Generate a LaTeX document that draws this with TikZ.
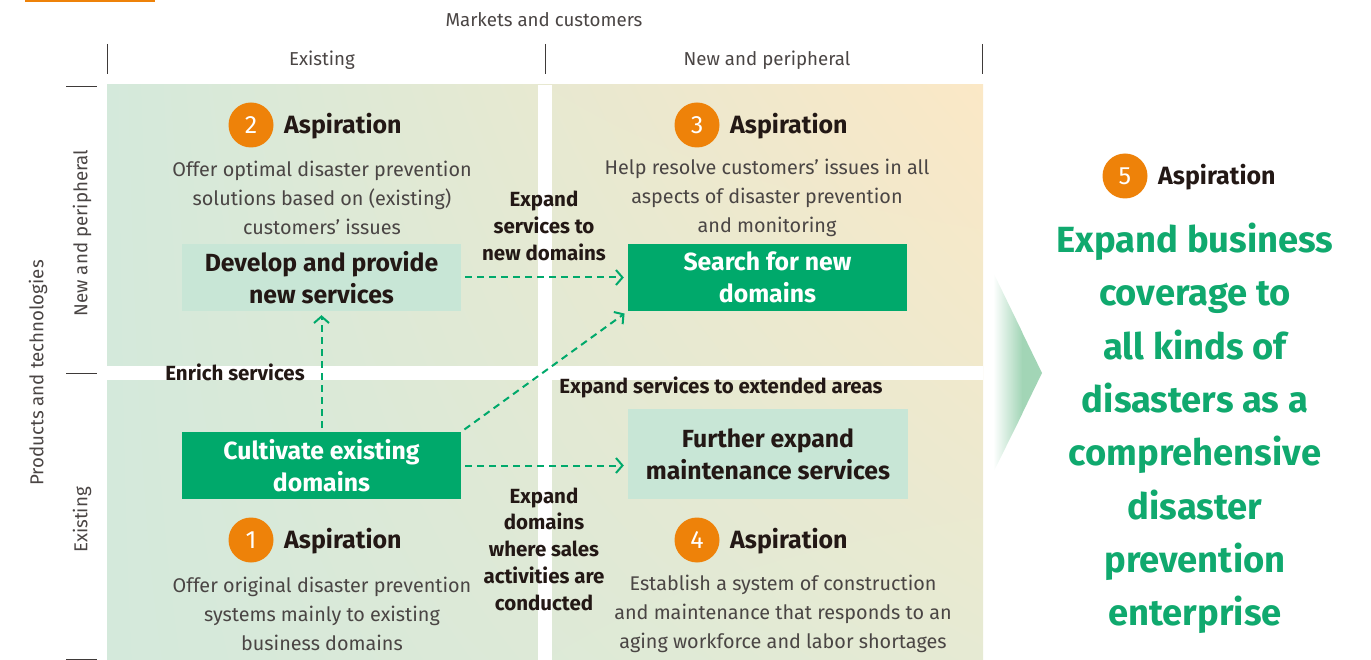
\documentclass[tikz,border=0pt]{standalone}
\usepackage{fontspec}
\setmainfont{Fira Sans}
\usetikzlibrary{arrows.meta,shadings}
\definecolor{grn}{HTML}{00A96B}
\definecolor{biggrn}{HTML}{10A96E}
\definecolor{mint}{HTML}{C8E6D6}
\definecolor{org}{HTML}{EE8209}
\definecolor{txt}{HTML}{231815}
\definecolor{gtxt}{HTML}{4A4544}
\definecolor{qUL}{HTML}{D4E9DB}
\definecolor{qUR}{HTML}{FBE8C6}
\definecolor{qLL}{HTML}{D4E9DB}
\definecolor{qLR}{HTML}{E6EAD3}
\definecolor{chev}{HTML}{A2D5B6}
\definecolor{tickc}{HTML}{3E3A39}
\tikzset{
  num/.style={circle, fill=org, text=white, minimum size=45pt, inner sep=0pt, font=\fontsize{25}{25}\selectfont},
  asp/.style={anchor=west, text=txt, inner sep=0pt, font=\fontsize{25}{25}\selectfont\bfseries},
  desc/.style={align=center, text=gtxt, inner sep=0pt, font=\fontsize{19.8}{29}\selectfont},
  hdr/.style={text=gtxt, inner sep=0pt, font=\fontsize{18.7}{20}\selectfont},
  lbox/.style={fill=mint, text=txt, align=center, inner sep=0pt, font=\fontsize{24.8}{32}\selectfont\bfseries},
  gbox/.style={fill=grn, text=white, align=center, inner sep=0pt, font=\fontsize{24.8}{32}\selectfont\bfseries},
  lab/.style={text=txt, align=center, inner sep=0pt, font=\fontsize{20.5}{26.75}\selectfont\bfseries},
  big/.style={text=biggrn, align=center, inner sep=0pt, font=\fontsize{36.4}{53.3}\selectfont\bfseries},
  conn/.style={draw=grn, line width=2pt, dash pattern=on 7pt off 5pt, shorten >=4pt, shorten <=4pt,
    -{Straight Barb[length=6.5pt,width=15pt,line width=2pt]}},
  tick/.style={draw=tickc, line width=1pt}
}
\begin{document}
\begin{tikzpicture}[x=1pt,y=-1pt]
\useasboundingbox (0,0) rectangle (1371,660);
% orange bar
\fill[org] (25,0) rectangle (155,2.5);
% quadrant backgrounds
\shade[upper left=qUL, upper right=qUR, lower left=qLL, lower right=qLR] (107,85) rectangle (983,660);
\fill[white] (538,85) rectangle (552,660);
\fill[white] (107,366) rectangle (983,380);
% chevron
\fill[chev] (1022,332) -- (1042,373) -- (1022,414) -- cycle;
\shade[left color=white, right color=chev] (993,272) -- (1022.2,332) -- (1022.2,414) -- (993,473) -- cycle;
% headers and ticks
\node[hdr] (mk) at (544,20) {Markets and customers};
\draw[tick] (107,44) -- (107,74);
\draw[tick] (545,44) -- (545,74);
\draw[tick] (982,44) -- (982,74);
\node[hdr] (hx1) at (322,60) {Existing};
\node[hdr] (hx2) at (767,60) {New and peripheral};
\draw[tick] (66,87) -- (97,87);
\draw[tick] (66,373) -- (97,373);
\draw[tick] (66,659) -- (97,659);
\node[hdr, rotate=90] (hy1) at (82,233) {New and peripheral};
\node[hdr, rotate=90] (hy2) at (82,520) {Existing};
\node[hdr, rotate=90] (pt) at (38,373) {Products and technologies};
% aspirations
\node[num] (n2) at (251,125) {2};
\node[asp] (a2) at (284,126.5) {Aspiration};
\node[desc] (d2) at (322,198) {Offer optimal disaster prevention\\solutions based on (existing)\\customers' issues};
\node[num] (n3) at (697,125) {3};
\node[asp] (a3) at (730,126.5) {Aspiration};
\node[desc] (d3) at (767,198) {Help resolve customers' issues in all\\aspects of disaster prevention\\and monitoring};
\node[num] (n1) at (251,540) {1};
\node[asp] (a1) at (284,541.5) {Aspiration};
\node[desc] (d1) at (322,614) {Offer original disaster prevention\\systems mainly to existing\\business domains};
\node[num] (n4) at (697,540) {4};
\node[asp] (a4) at (730,541.5) {Aspiration};
\node[desc] (d4) at (783,614) {Establish a system of construction\\and maintenance that responds to an\\aging workforce and labor shortages};
% boxes
\node[lbox, minimum width=279pt, minimum height=67pt] (dev) at (321.5,277.5) {Develop and provide\\new services};
\node[gbox, minimum width=279pt, minimum height=67pt] (sea) at (767.5,277.5) {Search for new\\domains};
\node[gbox, minimum width=279pt, minimum height=67pt] (cul) at (321.5,465.5) {Cultivate existing\\domains};
\node[lbox, minimum width=280pt, minimum height=90pt] (fur) at (768,454) {Further expand\\maintenance services};
% connectors
\draw[conn] (dev.east) -- (sea.west);
\draw[conn] (cul.north) -- (dev.south);
\draw[conn] (cul.north east) -- (sea.south west);
\draw[conn] (cul.east) -- (cul.east -| fur.west);
% labels
\node[lab] (l1) at (544,226) {Expand\\services to\\new domains};
\node[lab] (l2) at (235,372) {Enrich services};
\node[lab] (l3) at (721,387) {Expand services to extended areas};
\node[lab] (l4) at (544,549) {Expand\\domains\\where sales\\activities are\\conducted};
% goal
\node[num] (n5) at (1125,176) {5};
\node[asp] (a5) at (1158,177.5) {Aspiration};
\node[big] (goal) at (1195,428.5) {Expand business\\coverage to\\all kinds of\\disasters as a\\comprehensive\\disaster\\prevention\\enterprise};
\end{tikzpicture}
\end{document}
